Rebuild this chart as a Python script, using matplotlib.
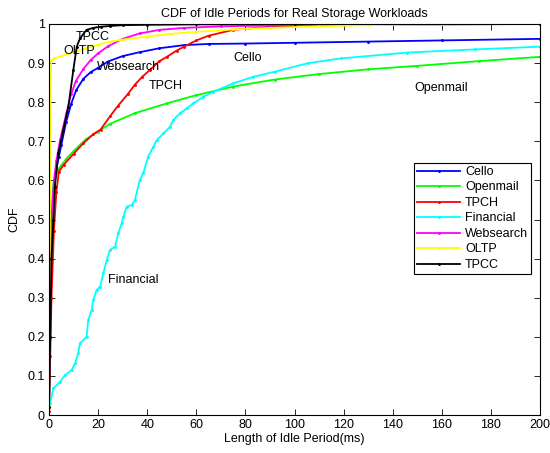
import matplotlib
matplotlib.use('Agg')
import matplotlib.pyplot as plt

plt.rcParams['font.family'] = ['Liberation Sans', 'DejaVu Sans']

# idle period length (ms) vs. cumulative fraction, per workload
cello_x = [0, 0.5, 1, 2, 3, 4, 5, 7, 9, 11, 14, 17, 20, 24, 30, 37, 45, 55, 65, 80, 100, 130, 160, 200]
cello_y = [0.02, 0.25, 0.45, 0.58, 0.63, 0.66, 0.69, 0.75, 0.795, 0.83, 0.86, 0.877, 0.888, 0.904, 0.918,
           0.928, 0.938, 0.946, 0.949, 0.95, 0.952, 0.955, 0.958, 0.962]

openmail_x = [0, 0.5, 1, 1.5, 2, 4, 7, 10, 15, 20, 25, 35, 48, 60, 75, 92, 110, 130, 150, 175, 200]
openmail_y = [0.02, 0.2, 0.45, 0.57, 0.6, 0.63, 0.655, 0.675, 0.705, 0.725, 0.745, 0.772, 0.797, 0.818,
              0.84, 0.858, 0.872, 0.884, 0.893, 0.905, 0.916]

tpch_x = [0, 0.5, 1, 2, 3, 4, 6, 10, 14, 18, 21, 25, 28, 32, 35, 38, 41, 45, 48, 52, 55, 60, 65, 75, 90,
          110, 140, 200]
tpch_y = [0.01, 0.15, 0.3, 0.47, 0.57, 0.622, 0.64, 0.668, 0.695, 0.718, 0.73, 0.765, 0.79, 0.82, 0.845,
          0.865, 0.882, 0.905, 0.916, 0.932, 0.942, 0.958, 0.97, 0.985, 0.993, 0.997, 0.999, 1.0]

financial_x = [0, 0.4, 1.8, 4.5, 6.5, 9.2, 10.6, 11.9, 12.6, 15.3, 16, 17.4, 18, 19.4, 20.8, 22.1, 23.5,
               24.8, 26.9, 28.2, 29.6, 30.3, 31.6, 33.7, 35, 37, 38.4, 40.4, 42.5, 43.9, 46.6, 49.3,
               50.6, 53.4, 56.1, 58.8, 62.9, 67, 75, 83.2, 92, 105.6, 119, 146, 173.5, 200]
financial_y = [0.02, 0.03, 0.068, 0.085, 0.102, 0.115, 0.132, 0.158, 0.183, 0.2, 0.243, 0.269, 0.294,
               0.32, 0.328, 0.362, 0.396, 0.422, 0.43, 0.465, 0.49, 0.507, 0.533, 0.537, 0.55, 0.601,
               0.618, 0.661, 0.686, 0.703, 0.72, 0.737, 0.754, 0.772, 0.784, 0.797, 0.814, 0.827, 0.848,
               0.865, 0.878, 0.9, 0.912, 0.927, 0.935, 0.942]

websearch_x = [0, 0.5, 1, 2, 3, 4.5, 7, 9, 11, 14, 17, 20, 24, 30, 37, 45, 55, 70, 90, 120, 160, 200]
websearch_y = [0.02, 0.3, 0.5, 0.6, 0.65, 0.703, 0.77, 0.82, 0.855, 0.885, 0.908, 0.925, 0.943, 0.962,
               0.976, 0.985, 0.99, 0.994, 0.996, 0.998, 0.999, 1.0]

oltp_x = [0, 0.3, 0.6, 1, 2, 5, 10, 15, 20, 25, 30, 40, 50, 60, 75, 90, 110, 130, 160, 200]
oltp_y = [0.02, 0.3, 0.85, 0.908, 0.912, 0.918, 0.928, 0.938, 0.947, 0.955, 0.96, 0.968, 0.975, 0.98,
          0.986, 0.99, 0.994, 0.997, 0.999, 1.0]

tpcc_x = [0, 0.5, 1, 1.8, 2.4, 3.8, 5.8, 7.9, 9.9, 11.3, 12.6, 15.3, 18, 21, 25, 30, 40, 60, 100, 200]
tpcc_y = [0.02, 0.2, 0.4, 0.5, 0.584, 0.669, 0.729, 0.789, 0.882, 0.942, 0.963, 0.985, 0.99, 0.993,
          0.995, 0.997, 0.998, 0.999, 1.0, 1.0]

series = [('Cello', cello_x, cello_y, 'b'),
          ('Openmail', openmail_x, openmail_y, 'g'),
          ('TPCH', tpch_x, tpch_y, 'r'),
          ('Financial', financial_x, financial_y, 'c'),
          ('Websearch', websearch_x, websearch_y, 'm'),
          ('OLTP', oltp_x, oltp_y, 'y'),
          ('TPCC', tpcc_x, tpcc_y, 'k')]
colors = {'b': (0, 0, 1), 'g': (0, 1, 0), 'r': (1, 0, 0), 'c': (0, 1, 1),
          'm': (1, 0, 1), 'y': (1, 1, 0), 'k': (0, 0, 0)}

# curve labels placed next to each line
labels = [('TPCC', 11, 0.966), ('OLTP', 5.7, 0.932), ('Websearch', 19.6, 0.89),
          ('Cello', 75, 0.913), ('TPCH', 40.7, 0.841), ('Openmail', 149, 0.836),
          ('Financial', 24.1, 0.345)]

fs = 9

fig = plt.figure(figsize=(5.5, 4.53), dpi=100)
ax = fig.add_axes([49/550, 38/453, 491/550, 391/453])

for name, x, y, c in series:
    ax.plot(x, y, '.-', color=colors[c], lw=1.3, ms=2.2, label=name)

for t, x, y in labels:
    ax.text(x, y, t, fontsize=fs, va='center', ha='left')

ax.set_xlim(0, 200)
ax.set_ylim(0, 1)
ax.set_xticks(range(0, 201, 20))
ax.set_yticks([i/10 for i in range(11)])
ax.set_yticklabels(['0'] + ['%.1f' % (i/10) for i in range(1, 10)] + ['1'])
ax.tick_params(direction='in', top=True, right=True, length=4, width=0.6, labelsize=fs, pad=3)
for s in ax.spines.values():
    s.set_linewidth(0.8)

ax.set_title('CDF of Idle Periods for Real Storage Workloads', fontsize=fs, pad=5)
ax.set_xlabel('Length of Idle Period(ms)', fontsize=fs, labelpad=1)
ax.set_ylabel('CDF', fontsize=fs, labelpad=5)

leg = ax.legend(loc='upper right', bbox_to_anchor=(0.982, 0.645), fontsize=fs, fancybox=False,
                framealpha=1, edgecolor='k', borderpad=0.25, labelspacing=0.28, handlelength=3.4,
                handletextpad=0.4, borderaxespad=0)
leg.get_frame().set_linewidth(0.8)

fig.savefig('out.png', dpi=100)
